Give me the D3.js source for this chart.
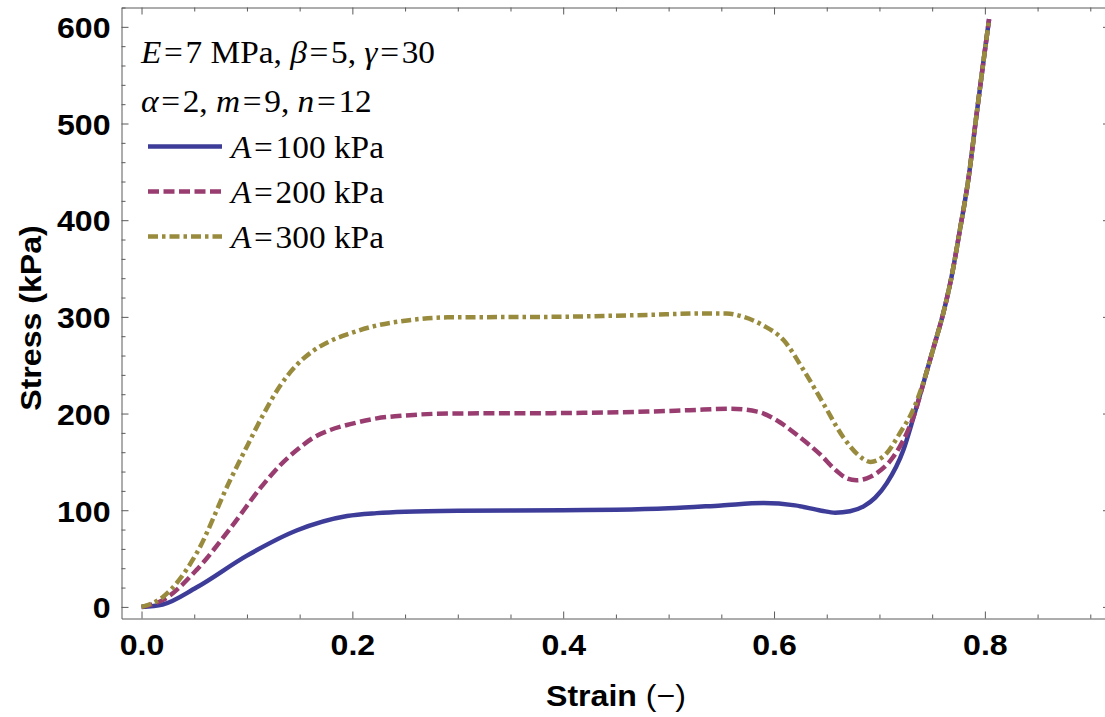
<!DOCTYPE html>
<html><head><meta charset="utf-8">
<script src="https://cdn.jsdelivr.net/npm/d3@7"></script>
<style>body{margin:0;background:#fff} svg{display:block} text{white-space:pre}</style>
</head><body>
<svg id="c" width="1105" height="717"></svg>
<script>
// ---- data (strain [-], stress [kPa]) ----
const seriesLabels = ["100 kPa", "200 kPa", "300 kPa"];
const seriesColors = ["#3D3D99", "#993D71", "#998B3D"];
const seriesDashes = [null, "11,4.5", "10,4,3.5,4"];

const curveA100 = [[0,0],[0.02,2.5],[0.052,20],[0.1,53],[0.147,79],[0.195,94],[0.223,97],[0.25,98.5],[0.3,99.5],[0.4,100],[0.45,100.5],[0.5,102],[0.55,105],[0.59,107.5],[0.62,105],[0.645,99.5],[0.658,97.5],[0.672,99],[0.685,104],[0.696,113],[0.707,128],[0.7226,162],[0.732,195],[0.7416,231],[0.751,267],[0.7606,304],[0.7685,342],[0.776,388],[0.7843,442],[0.7922,510],[0.7985,563],[0.804,608]];
const curveA200 = [[0,0],[0.02,7],[0.052,38],[0.084,81],[0.115,126],[0.131,146],[0.147,162],[0.163,175],[0.179,183],[0.198,189],[0.223,195],[0.25,198],[0.29,200],[0.4,200.5],[0.48,202],[0.52,203.5],[0.558,205],[0.584,202],[0.6055,191],[0.625,175],[0.6435,158],[0.659,141],[0.669,133],[0.678,131],[0.688,133],[0.697,138],[0.713,155],[0.726,180],[0.734,202],[0.7416,231],[0.751,267],[0.7606,304],[0.7685,342],[0.776,388],[0.7843,442],[0.7922,510],[0.7985,563],[0.804,608]];
const curveA300 = [[0,0],[0.02,10],[0.052,55],[0.084,131],[0.1,166],[0.115,198],[0.131,228],[0.147,250],[0.163,265],[0.179,275],[0.198,283],[0.223,291],[0.25,296],[0.29,299.5],[0.387,300],[0.48,302],[0.53,303.5],[0.555,303.5],[0.571,300],[0.59,291],[0.609,276],[0.628,245],[0.647,210],[0.666,175],[0.68,157],[0.6915,150],[0.7068,159],[0.7195,180],[0.732,204],[0.7416,232],[0.751,267],[0.7606,304],[0.7685,342],[0.776,388],[0.7843,442],[0.7922,510],[0.7985,563],[0.804,608]];

const strainMajor = [0, 0.2, 0.4, 0.6, 0.8];
const strainMinor = [0.05,0.1,0.15,0.25,0.3,0.35,0.45,0.5,0.55,0.65,0.7,0.75,0.85,0.9];
const stressMajor = [0, 100, 200, 300, 400, 500, 600];
const stressMinor = [20,40,60,80,120,140,160,180,220,240,260,280,320,340,360,380,420,440,460,480,520,540,560,580,620];

const headerLine1 = [["E",1],["=",0,1],["7 MPa, ",0],["β",1],["=",0,1],["5, ",0],["γ",1],["=",0,1],["30",0]];
const headerLine2 = [["α",1],["=",0,1],["2, ",0],["m",1],["=",0,1],["9, ",0],["n",1],["=",0,1],["12",0]];

// ---- drawing ----
const svg = d3.select("#c");
const x = d3.scaleLinear().domain([-0.019, 0.9187]).range([121.5, 1110]);
const y = d3.scaleLinear().domain([-12, 620]).range([618.5, 7.5]);
const frame = "#5a5a5a";
const SX = 1.07;

function styleTicks(g) {
  g.attr("color", "#000");
  g.selectAll("path.domain").attr("stroke", frame).attr("stroke-width", 1);
  g.selectAll(".tick line").attr("stroke", frame).attr("stroke-width", 1);
}
function addAxis(axisFn, scale, translate, majors, minors, labels) {
  const gMin = svg.append("g").attr("transform", translate)
    .call(axisFn(scale).tickValues(minors).tickSizeInner(-4).tickSizeOuter(0).tickFormat(""));
  gMin.select("path.domain").remove();
  styleTicks(gMin);
  const gMaj = svg.append("g").attr("transform", translate)
    .call(axisFn(scale).tickValues(majors).tickSizeInner(-7).tickSizeOuter(0)
      .tickFormat(labels ? labels : ""));
  styleTicks(gMaj);
  return gMaj;
}
const bottom = addAxis(d3.axisBottom, x, `translate(0,${y.range()[0]})`, strainMajor, strainMinor, d3.format(".1f"));
addAxis(d3.axisTop, x, `translate(0,${y.range()[1]})`, strainMajor, strainMinor, null);
const left = addAxis(d3.axisLeft, y, `translate(${x.range()[0]},0)`, stressMajor, stressMinor, d3.format("d"));
addAxis(d3.axisRight, y, `translate(${x.range()[1]},0)`, stressMajor, stressMinor, null);

const sansBold = "'Liberation Sans', Arial, Helvetica, sans-serif";
bottom.attr("font-size", 30).attr("font-family", sansBold).attr("font-weight", "bold");
bottom.selectAll(".tick text").attr("y", null).attr("dy", null)
  .attr("transform", `translate(0,36.5) scale(${SX},1)`);
left.attr("font-size", 30).attr("font-family", sansBold).attr("font-weight", "bold");
left.selectAll(".tick text").attr("x", null).attr("dy", "0.36em")
  .attr("transform", `translate(-11,0) scale(${SX},1)`);

// curves
const line = d3.line().x(d => x(d[0])).y(d => y(d[1])).curve(d3.curveMonotoneX);
const curves = [curveA100, curveA200, curveA300];
curves.forEach((c, i) => {
  svg.append("path").datum(c).attr("d", line)
    .attr("fill", "none").attr("stroke", seriesColors[i]).attr("stroke-width", 4.5)
    .attr("stroke-linejoin", "round")
    .attr("stroke-dasharray", seriesDashes[i]);
});

// rich serif text
const serif = "'Liberation Serif', 'Times New Roman', Times, serif";
const SXS = 1.06;
function richText(tx, ty, parts) {
  const t = svg.append("text").attr("transform", `translate(${tx},${ty}) scale(${SXS},1)`)
    .attr("font-family", serif).attr("font-size", 31.5).attr("fill", "#000");
  let pad = 0;
  parts.forEach(p => {
    const ts = t.append("tspan").text(p[0]).attr("font-style", p[1] ? "italic" : "normal");
    if (p[2]) { ts.attr("dx", 2.5); pad = 2.5; }
    else if (pad) { ts.attr("dx", pad); pad = 0; }
  });
  return t;
}
richText(141, 63, headerLine1);
richText(141, 111.5, headerLine2);

const legendY = [146.5, 191.5, 236.5];
seriesLabels.forEach((lab, i) => {
  svg.append("line").attr("x1", 148).attr("x2", 222).attr("y1", legendY[i]).attr("y2", legendY[i])
    .attr("stroke", seriesColors[i]).attr("stroke-width", 4.5)
    .attr("stroke-dasharray", seriesDashes[i]);
  richText(231, legendY[i] + 11.5, [["A",1],["=",0,1],[lab,0]]);
});

// axis titles
const xt = svg.append("text").attr("transform", `translate(616,706) scale(${SX},1)`)
  .attr("text-anchor", "middle").attr("font-family", sansBold).attr("font-size", 30);
xt.append("tspan").attr("font-weight", "bold").text("Strain");
xt.append("tspan").attr("font-weight", "normal").text(" (\u2212)");
svg.append("text").attr("transform", `translate(41,318) rotate(-90) scale(${SX},1)`)
  .attr("text-anchor", "middle").attr("font-family", sansBold).attr("font-size", 30)
  .attr("font-weight", "bold").text("Stress (kPa)");
</script>
</body></html>
